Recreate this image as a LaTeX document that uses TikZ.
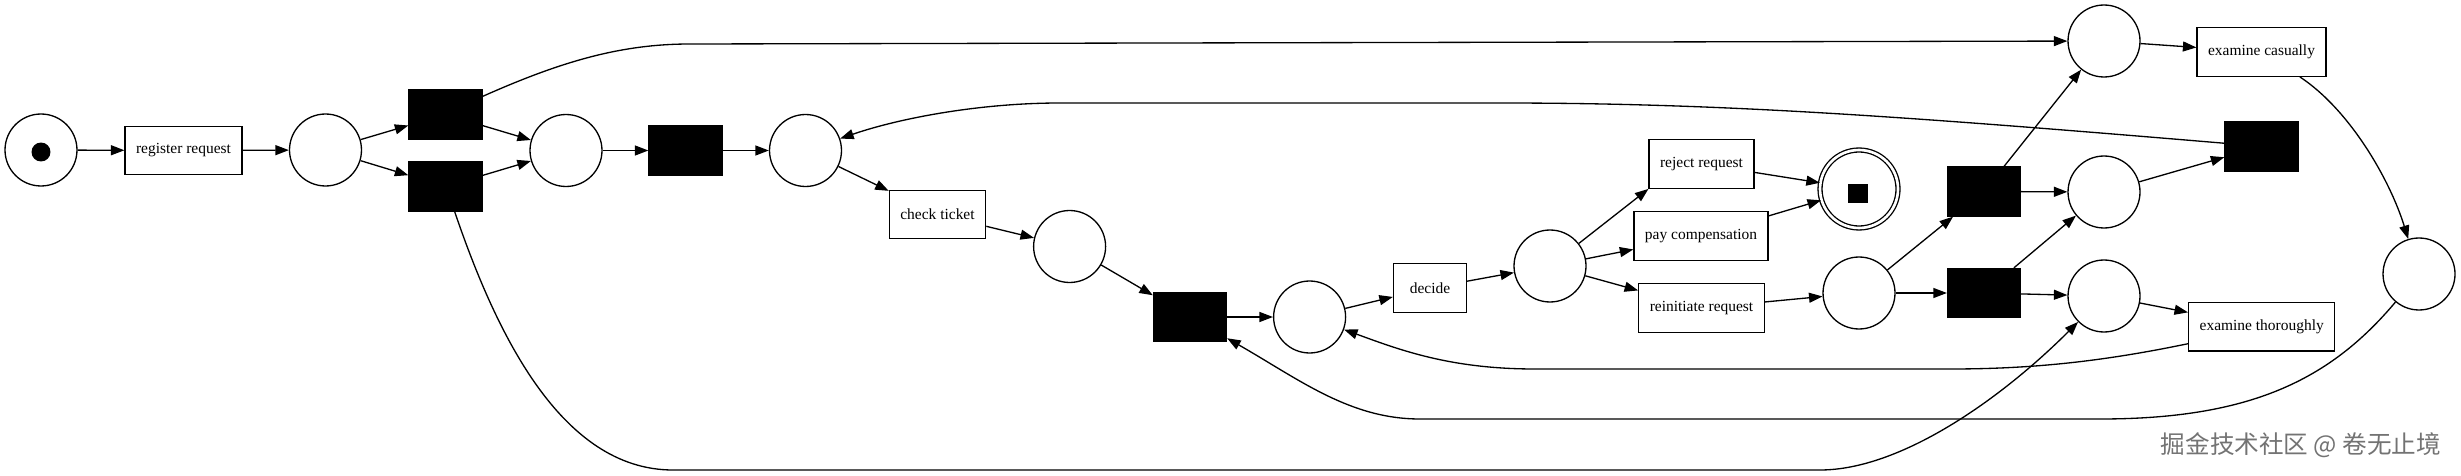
\documentclass[tikz,border=0pt]{standalone}
\usepackage{fontspec}
\setmainfont{Liberation Serif}
\newfontfamily\cjkfont{Noto Sans CJK SC}
\usetikzlibrary{arrows.meta}
\definecolor{wmgray}{RGB}{115,115,115}

\begin{document}
\begin{tikzpicture}[
  x=0.02cm, y=-0.02cm, line width=0.75pt,
  place/.style={draw, circle, minimum size=1.44cm, inner sep=0pt},
  trans/.style={draw, fill=black, minimum width=1.46cm, minimum height=0.98cm, inner sep=0pt},
  box/.style={draw, minimum width=1.46cm, minimum height=0.97cm, inner xsep=0.22cm, inner ysep=0pt,
              font=\fontsize{8.8}{10}\selectfont},
  tok/.style={draw=none, fill=black, inner sep=0pt},
  arr/.style={-{Triangle[length=2.7mm, width=2mm]}}]
\useasboundingbox (0,0) rectangle (2461,476);
\node[place] (start) at (41,150) {};
\node[tok, circle, minimum size=0.38cm] (starttok) at (41,152) {};
\node[box] (reg) at (183.5,150.5) {register request};
\node[place] (p1) at (325.5,150) {};
\node[trans] (tU) at (445.5,114.5) {};
\node[trans] (tL) at (445.5,186.5) {};
\node[place] (p2) at (566,150.5) {};
\node[trans] (tS) at (685.5,150.5) {};
\node[place] (p3) at (805.5,150.5) {};
\node[box] (chk) at (937.5,214.5) {check ticket};
\node[place] (p4) at (1069.6,246.5) {};
\node[trans] (tM) at (1190,317) {};
\node[place] (p5) at (1309.6,317) {};
\node[box] (dec) at (1430,288) {decide};
\node[place] (p6) at (1550,266) {};
\node[box] (rej) at (1701.5,164) {reject request};
\node[box] (pay) at (1701,236) {pay compensation};
\node[box] (rei) at (1701.5,308) {reinitiate request};
\node[place, double, double distance=1.5pt, minimum size=1.56cm] (end) at (1859,189) {};
\node[tok, minimum width=0.4cm, minimum height=0.38cm] (endtok) at (1858,193.5) {};
\node[place] (p7) at (1859,293) {};
\node[trans] (tA) at (1984,191.5) {};
\node[trans] (tB) at (1984,293) {};
\node[place] (p8) at (2104,41) {};
\node[place] (p9) at (2104,192) {};
\node[place] (p10) at (2104,296) {};
\node[box] (cas) at (2261.5,52) {examine casually};
\node[trans] (tR) at (2261.5,146.5) {};
\node[box] (tho) at (2261.7,326.7) {examine thoroughly};
\node[place] (p11) at (2419,274) {};
\node[text=wmgray, font=\cjkfont\fontsize{14}{16}\selectfont] (wm) at (2301,445) {掘金技术社区 @ 卷无止境};

\draw[arr] (start) -- (reg);
\draw[arr] (reg) -- (p1);
\draw[arr] (p1) -- (tU);
\draw[arr] (p1) -- (tL);
\draw[arr] (tU) -- (p2);
\draw[arr] (tL) -- (p2);
\draw[arr] (p2) -- (tS);
\draw[arr] (tS) -- (p3);
\draw[arr] (p3) -- (chk);
\draw[arr] (chk) -- (p4);
\draw[arr] (p4) -- (tM);
\draw[arr] (tM) -- (p5);
\draw[arr] (p5) -- (dec);
\draw[arr] (dec) -- (p6);
\draw[arr] (p6) -- (rej.south west);
\draw[arr] (p6) -- (pay);
\draw[arr] (p6) -- (rei);
\draw[arr] (rej) -- (end);
\draw[arr] (pay) -- (end);
\draw[arr] (rei) -- (p7);
\draw[arr] (p7) -- (tA);
\draw[arr] (p7) -- (tB);
\draw[arr] (tA) -- (p8);
\draw[arr] (tA) -- (p9);
\draw[arr] (tB) -- (p9);
\draw[arr] (tB) -- (p10);
\draw[arr] (p8) -- (cas);
\draw[arr] (p9) -- (tR);
\draw[arr] (p10) -- (tho);
\draw[arr] (tU.26) .. controls (560,62) and (620,44) .. (690,44) -- (p8);
\draw[arr] (tL.-70) .. controls (495,330) and (560,470) .. (673,470) -- (1820,470)
  .. controls (1900,470) and (2000,400) .. (p10);
\draw[arr] (tR.175) .. controls (1900,116) and (1720,103) .. (1500,103) -- (1060,103)
  .. controls (980,103) and (900,118) .. (p3);
\draw[arr] (cas.-33) .. controls (2350,110) and (2390,180) .. (p11);
\draw[arr] (tho.193) .. controls (2100,362) and (2030,369) .. (1950,369) -- (1535,369)
  .. controls (1450,369) and (1400,350) .. (p5);
\draw[arr] (p11) .. controls (2330,380) and (2250,419) .. (2100,419) -- (1420,419)
  .. controls (1350,419) and (1300,380) .. (tM);
\end{tikzpicture}
\end{document}
